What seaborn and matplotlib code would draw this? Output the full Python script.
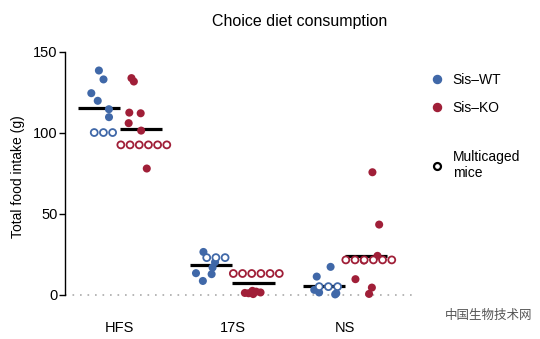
import numpy as np
import pandas as pd
import matplotlib
matplotlib.use("Agg")
import matplotlib.pyplot as plt
import matplotlib.transforms as mtransforms
from matplotlib.lines import Line2D
import seaborn as sns

# ---- data ----
diets = ["HFS", "17S", "NS"]
genotypes = ["Sis–WT", "Sis–KO"]

hfs_wt_single = [138.5, 133.0, 124.5, 119.8, 114.6, 109.7]
hfs_wt_multi = [100.2, 100.2, 100.2]
hfs_ko_single = [133.8, 131.7, 112.5, 112.1, 106.0, 101.4, 78.0]
hfs_ko_multi = [92.6, 92.6, 92.6, 92.6, 92.6, 92.6]

s17_wt_single = [26.5, 20.2, 16.9, 13.4, 12.8, 8.6]
s17_wt_multi = [23.0, 23.0, 23.0]
s17_ko_single = [2.5, 1.0, 1.5, 0.5, 1.2, 2.0]
s17_ko_multi = [13.2, 13.2, 13.2, 13.2, 13.2, 13.2]

ns_wt_single = [17.3, 11.3, 3.1, 1.5, 0.3, 1.0]
ns_wt_multi = [5.1, 5.1, 5.1]
ns_ko_single = [75.7, 43.4, 24.1, 21.2, 9.7, 4.5, 0.6]
ns_ko_multi = [21.6, 21.6, 21.6, 21.6, 21.6, 21.6]

yticks = [0, 50, 100, 150]

# ---- build table ----
rows = []
groups = [
    ("HFS", "Sis–WT", hfs_wt_single, hfs_wt_multi),
    ("HFS", "Sis–KO", hfs_ko_single, hfs_ko_multi),
    ("17S", "Sis–WT", s17_wt_single, s17_wt_multi),
    ("17S", "Sis–KO", s17_ko_single, s17_ko_multi),
    ("NS", "Sis–WT", ns_wt_single, ns_wt_multi),
    ("NS", "Sis–KO", ns_ko_single, ns_ko_multi),
]
for d, g, single, multi in groups:
    for v in single:
        rows.append((d, g, v, False))
    for v in multi:
        rows.append((d, g, v, True))
df = pd.DataFrame(rows, columns=["diet", "genotype", "value", "multi"])

blue = "#4068a8"
red = "#a01f38"
palette = {"Sis–WT": blue, "Sis–KO": red}

plt.rcParams["font.family"] = ["Liberation Sans", "DejaVu Sans"]

fig = plt.figure(figsize=(5.4, 3.39), dpi=100)
ax = fig.add_axes([0.120, 0.111, 0.652, 0.736])

ax.axhline(0, color="#aaaaaa", lw=1.2, ls=(0, (1, 3.5)), zorder=0)

# means (over all mice)
sns.boxplot(data=df, x="diet", y="value", hue="genotype", order=diets,
            hue_order=genotypes, dodge=True, width=0.75, ax=ax,
            showbox=False, showcaps=False, showfliers=False,
            whiskerprops={"visible": False}, medianprops={"visible": False},
            showmeans=True, meanline=True,
            meanprops={"color": "black", "linestyle": "-", "linewidth": 2.3},
            legend=False)

# single-caged mice
np.random.seed(3)
sns.stripplot(data=df[~df["multi"]], x="diet", y="value", hue="genotype",
              order=diets, hue_order=genotypes, palette=palette, dodge=True,
              jitter=0.26, size=5.8, linewidth=0, ax=ax, legend=False, zorder=3)

# multicaged mice (hollow)
n0 = len(ax.collections)
sns.swarmplot(data=df[df["multi"]], x="diet", y="value", hue="genotype",
              order=diets, hue_order=genotypes, palette=palette, dodge=True,
              size=5.0, ax=ax, legend=False, warn_thresh=1.0, zorder=3)
shift = mtransforms.ScaledTranslation(6 / 100, 0, fig.dpi_scale_trans)
for coll in ax.collections[n0:]:
    fc = coll.get_facecolors()
    coll.set_edgecolors(fc)
    coll.set_facecolors("white")
    coll.set_linewidths(1.3)
    coll.set_offset_transform(ax.transData + shift)

ax.set_xlim(-0.49, 2.64)
ax.set_ylim(-4, 150)
ax.set_yticks(yticks)
ax.set_xlabel("")
ax.set_ylabel("Total food intake (g)", fontsize=10, labelpad=6)
for s in ["top", "right", "bottom"]:
    ax.spines[s].set_visible(False)
ax.spines["left"].set_bounds(0, 150)
ax.spines["left"].set_linewidth(1.0)
ax.tick_params(axis="y", length=4, width=1.0, pad=1, labelsize=10.5)
ax.tick_params(axis="x", length=0, pad=14, labelsize=10.5)
ax.set_facecolor("white")
ax.grid(False)

fig.suptitle("Choice diet consumption", x=0.555, y=0.96, fontsize=11.5)

# legends
h1 = [Line2D([], [], ls="none", marker="o", ms=5.8, mfc=blue, mec=blue),
      Line2D([], [], ls="none", marker="o", ms=5.8, mfc=red, mec=red)]
leg1 = fig.legend(h1, genotypes, loc="upper left", bbox_to_anchor=(0.796, 0.785),
                  frameon=False, fontsize=10, handlelength=1.0, handletextpad=0.65,
                  labelspacing=1.0, borderpad=0, borderaxespad=0)
h2 = [Line2D([], [], ls="none", marker="o", ms=5.0, mfc="white", mec="black", mew=1.6)]
leg2 = fig.legend(h2, ["Multicaged\nmice"], loc="upper left",
                  bbox_to_anchor=(0.796, 0.558), frameon=False, fontsize=10,
                  handlelength=1.0, handletextpad=0.65, borderpad=0, borderaxespad=0)

fig.text(0.985, 0.07, "中国生物技术网", ha="right", va="center", fontsize=9,
         color="#555555", family=["Noto Sans CJK SC", "DejaVu Sans"])

fig.savefig("out.png", dpi=100, facecolor="white")
